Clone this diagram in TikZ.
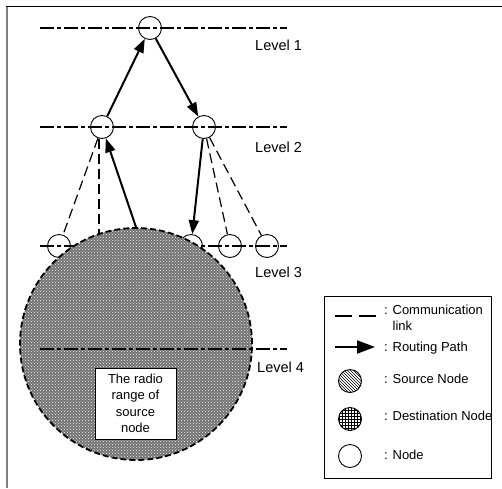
\documentclass[tikz,border=0pt]{standalone}
\usepackage{fontspec}
\setmainfont{Liberation Sans}
\usetikzlibrary{arrows.meta, patterns}

\begin{document}
\begin{tikzpicture}[x=1pt, y=-1pt, font=\fontsize{13}{16.5}\selectfont]
		\tikzstyle{levelline} = [line width=1.3pt, dash pattern=on 14pt off 3pt on 4pt off 3pt]
		\tikzstyle{netnode} = [draw=black, circle, line width=0.9pt, minimum size=23pt, inner sep=0pt]
		\tikzstyle{commlink} = [line width=1.2pt, dash pattern=on 10pt off 5pt]
		\tikzstyle{route} = [line width=2pt, -{Triangle[length=14pt, width=10pt]}]
		\tikzstyle{levellabel} = [anchor=west, inner sep=0pt, font=\fontsize{14.5}{16}\selectfont]
		\tikzstyle{legendtext} = [anchor=west, inner sep=0pt, align=left]
		
		\useasboundingbox (0,0) rectangle (502,488);
		\draw [gray, line width=2pt] (7,488) -- (7,6);
		\draw [black, line width=1pt] (6,6) -- (502,6);
		
		% levels
		\draw [levelline] (40,28) -- (287,28);
		\draw [levelline] (40,127) -- (287,127);
		\draw [levelline] (40,246) -- (287,246);
		
		\node[netnode]	at (150, 28) 	(l1) 	{};
		\node[netnode]	at (102, 127) 	(l2a) 	{};
		\node[netnode]	at (204, 127) 	(l2b) 	{};
		\node[netnode]	at (59, 246) 	(l3a) 	{};
		\coordinate		(l3h) at (99, 246);
		\node[netnode]	at (191, 246) 	(l3b) 	{};
		\node[netnode]	at (230, 246) 	(l3c) 	{};
		\node[netnode]	at (267, 246) 	(l3d) 	{};
		
		\draw [commlink] (l2a) -- (l3a);
		\draw [commlink] (l3h |- l2a.south) -- (l3h);
		\draw [commlink] (l2b) -- (l3c);
		\draw [commlink] (l2b) -- (l3d);
		
		% radio range
		\node[circle, minimum size=232pt, inner sep=0pt, preaction={fill=black!55}, pattern=crosshatch dots, pattern color=white!90!gray, draw=black, line width=1.8pt, dash pattern=on 6pt off 3pt] at (136, 344) (range) {};
		\draw [levelline] (40,349) -- (287,349);
		\node[draw=black, fill=white, line width=0.6pt, minimum width=81pt, minimum height=71pt, align=center] at (135.5, 403.5) (rangetxt) {The radio\\range of\\source\\node};
		
		\draw [route] (l2a) -- (l1);
		\draw [route] (l1) -- (l2b);
		\draw [route] (range.north) -- (l2a);
		\draw [route] (l2b) -- (l3b);
		
		\node[levellabel]	at (255, 45)	(lab1)	{Level 1};
		\node[levellabel]	at (255, 147)	(lab2)	{Level 2};
		\node[levellabel]	at (255, 272)	(lab3)	{Level 3};
		\node[levellabel]	at (257, 367)	(lab4)	{Level 4};
		
		% legend
		\node[draw=black, line width=0.8pt, minimum width=167pt, minimum height=182pt, inner sep=0pt] at (407.5, 387) (legend) {};
		\coordinate (la) at (335, 316);
		\coordinate (lb) at (376, 316);
		\coordinate (lc) at (335, 347);
		\coordinate (ld) at (375, 347);
		\draw [commlink, dash pattern=on 17pt off 7pt] (la) -- (lb);
		\draw [route, -{Triangle[length=18pt, width=13pt]}] (lc) -- (ld);
		\node[netnode, pattern=north west lines]	at (350, 381)	(lsrc)	{};
		\node[netnode, pattern=grid]			at (350, 419)	(ldst)	{};
		\node[netnode]							at (350, 456)	(lnode)	{};
		
		\node[legendtext]	at (384, 318)	(t1)	{: Communication\\\phantom{: }link};
		\node[legendtext]	at (384, 348)	(t2)	{: Routing Path};
		\node[legendtext]	at (384, 379)	(t3)	{: Source Node};
		\node[legendtext]	at (384, 416)	(t4)	{: Destination Node};
		\node[legendtext]	at (384, 455)	(t5)	{: Node};
	\end{tikzpicture}
\end{document}
